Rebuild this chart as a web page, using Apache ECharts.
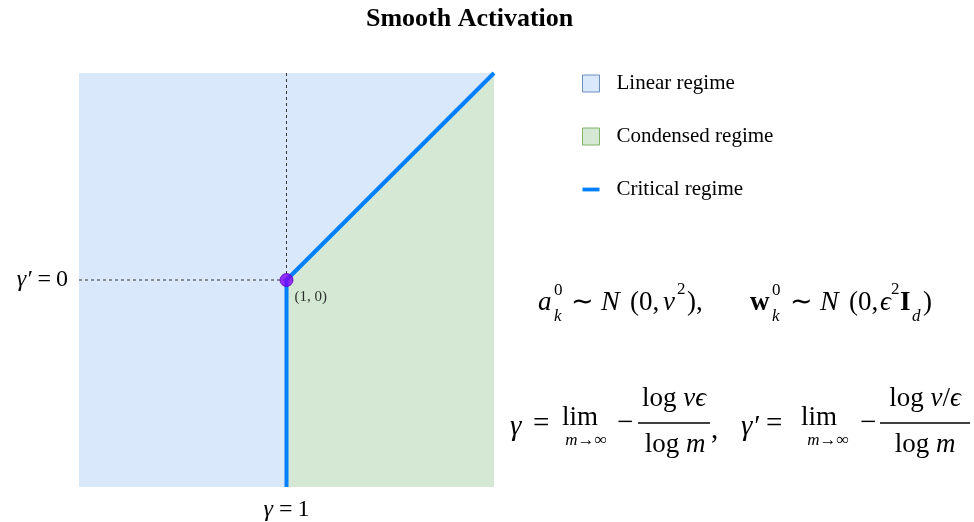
<!DOCTYPE html>
<html lang="en">
<head>
  <meta charset="UTF-8">
  <title>smooth-activation</title>
  <style>
    html, body { margin:0; padding:0; background:#fff; }
    #chart { width:974px; height:522px; }
  </style>
</head>
<body>
  <div id="chart"></div>
  <script src="https://cdn.jsdelivr.net/npm/echarts@6/dist/echarts.min.js"></script>
  <script>
    // phase diagram data (gamma on x, gamma' on y)
    var xRange = [0, 2]
    var yRange = [-1, 1]
    var linearX = [0, 2]
    var linearY = [1, 1]
    var condensedX = [1, 2]
    var condensedY = [0, 1]
    var criticalX = [1, 1, 2]
    var criticalY = [-1, 0, 1]
    var pointX = [1]
    var pointY = [0]
    var legendNames = ['Linear regime', 'Condensed regime', 'Critical regime']

    var zip = (xs, ys) => xs.map((x, i) => [x, ys[i]])
    var serif = 'Liberation Serif'

    // little helper for the formula pieces
    var richMath = {
      i: { fontStyle: 'italic', fontFamily: serif, fontSize: 27 },
      n: { fontFamily: serif, fontSize: 27 }
    }
    function tx(x, y, s, size, extra) {
      var style = {
        text: s, fontSize: size, fontFamily: serif, fill: '#000',
        align: 'left', verticalAlign: 'middle', rich: richMath
      }
      Object.assign(style, extra || {})
      return { type: 'text', x: x, y: y, silent: true, style: style }
    }
    var it = { fontStyle: 'italic' }
    var bd = { fontWeight: 'bold' }
    var ctr = { align: 'center' }
    function bar(x1, x2, y) {
      return { type: 'line', silent: true, shape: { x1: x1, y1: y, x2: x2, y2: y }, style: { stroke: '#000', lineWidth: 1.6 } }
    }

    var formulas = [
      // a_k^0 ~ N(0, nu^2)
      tx(538, 303, 'a', 27, it),
      tx(554, 291, '0', 17),
      tx(554, 317, 'k', 17, it),
      tx(571, 303, '∼', 27),
      tx(601, 303, 'N', 28, it),
      tx(630, 303, '(0,', 27),
      tx(663, 303, 'ν', 27, it),
      tx(677, 290, '2', 17),
      tx(687, 303, '),', 27),
      // w_k^0 ~ N(0, eps^2 I_d)
      tx(750, 303, 'w', 27, bd),
      tx(772, 291, '0', 17),
      tx(772, 317, 'k', 17, it),
      tx(790, 303, '∼', 27),
      tx(820, 303, 'N', 28, it),
      tx(849, 303, '(0,', 27),
      tx(880, 303, 'ϵ', 27, it),
      tx(891, 290, '2', 17),
      tx(900, 303, 'I', 27, bd),
      tx(912, 317, 'd', 17, it),
      tx(923, 303, ')', 27),
      // gamma = lim - log(nu eps)/log m
      tx(510, 427, 'γ', 29, it),
      tx(533, 424, '=', 29),
      tx(580, 418, 'lim', 27, ctr),
      tx(586, 441, 'm→∞', 17, { align: 'center', fontStyle: 'italic' }),
      tx(617, 423, '−', 29),
      tx(674, 399, '{n|log }{i|νϵ}', 27, ctr),
      bar(638, 710, 423),
      tx(675, 445, '{n|log }{i|m}', 27, ctr),
      tx(711, 430, ',', 29),
      // gamma' = lim - log(nu/eps)/log m
      tx(741, 427, 'γ′', 29, it),
      tx(766, 424, '=', 29),
      tx(819, 418, 'lim', 27, ctr),
      tx(828, 441, 'm→∞', 17, { align: 'center', fontStyle: 'italic' }),
      tx(860, 423, '−', 29),
      tx(925, 399, '{n|log }{i|ν}{n|/}{i|ϵ}', 27, ctr),
      bar(880, 970, 423),
      tx(925, 445, '{n|log }{i|m}', 27, ctr)
    ]

    var labelRich = {
      i: { fontStyle: 'italic', fontFamily: serif, fontSize: 24, color: '#000' },
      e: { fontFamily: serif, fontSize: 24, color: '#000', padding: [0, 5, 0, 6] }
    }

    var myChart = echarts.init(document.getElementById('chart'))
    var option = {
      animation: false,
      title: {
        text: 'Smooth Activation',
        left: 361,
        top: 1,
        textStyle: { fontFamily: serif, fontWeight: 'bold', fontSize: 26, color: '#000' }
      },
      legend: {
        orient: 'vertical',
        left: 577,
        top: 68,
        itemWidth: 17,
        itemHeight: 17,
        itemGap: 32,
        textStyle: { fontFamily: serif, fontSize: 21, color: '#000', padding: [0, 0, 0, 12] },
        data: [
          { name: legendNames[0], icon: 'rect', itemStyle: { color: '#dae8fc', borderColor: '#6c8ebf', borderWidth: 1 } },
          { name: legendNames[1], icon: 'rect', itemStyle: { color: '#d5e8d4', borderColor: '#82b366', borderWidth: 1 } },
          { name: legendNames[2], icon: 'path://M0,0H18V4H0Z', itemStyle: { color: '#007fff' } }
        ]
      },
      grid: { left: 79, right: 480, top: 73, bottom: 34 },
      xAxis: {
        type: 'value',
        min: xRange[0],
        max: xRange[1],
        interval: 1,
        axisLine: { show: false },
        axisTick: { show: false },
        splitLine: { show: false },
        axisLabel: {
          margin: 11,
          fontFamily: serif,
          fontSize: 24,
          color: '#000',
          formatter: v => v === 1 ? '{i|γ}{e|=}1' : '',
          rich: labelRich
        }
      },
      yAxis: {
        type: 'value',
        min: yRange[0],
        max: yRange[1],
        interval: 1,
        axisLine: { show: false },
        axisTick: { show: false },
        splitLine: { show: false },
        axisLabel: {
          margin: 11,
          fontFamily: serif,
          fontSize: 24,
          color: '#000',
          formatter: v => v === 0 ? '{i|γ′}{e|=}0' : '',
          rich: labelRich
        }
      },
      graphic: formulas,
      series: [
        {
          name: legendNames[0],
          type: 'line',
          data: zip(linearX, linearY),
          symbol: 'none',
          lineStyle: { width: 0 },
          itemStyle: { color: '#dae8fc' },
          areaStyle: { color: '#dae8fc', opacity: 1, origin: 'start' },
          z: 1
        },
        {
          name: legendNames[1],
          type: 'line',
          data: zip(condensedX, condensedY),
          symbol: 'none',
          lineStyle: { width: 0 },
          itemStyle: { color: '#d5e8d4' },
          areaStyle: { color: '#d5e8d4', opacity: 1, origin: 'start' },
          z: 2
        },
        {
          name: 'guideH',
          type: 'line',
          data: [[xRange[0], pointY[0]], [pointX[0], pointY[0]]],
          symbol: 'none',
          lineStyle: { color: '#333', width: 1, type: [3, 3] },
          z: 3
        },
        {
          name: 'guideV',
          type: 'line',
          data: [[pointX[0], pointY[0]], [pointX[0], yRange[1]]],
          symbol: 'none',
          lineStyle: { color: '#333', width: 1, type: [3, 3] },
          z: 3
        },
        {
          name: legendNames[2],
          type: 'line',
          data: zip(criticalX, criticalY),
          symbol: 'none',
          itemStyle: { color: '#007fff' },
          lineStyle: { color: '#007fff', width: 4 },
          z: 4
        },
        {
          name: 'origin',
          type: 'scatter',
          data: zip(pointX, pointY),
          symbolSize: 13,
          itemStyle: { color: '#7f00ff', borderColor: '#5a00b5', borderWidth: 1 },
          label: {
            show: true,
            formatter: '(1, 0)',
            position: [15, 17],
            fontFamily: serif,
            fontSize: 15,
            color: '#000'
          },
          z: 5
        }
      ]
    }
    myChart.setOption(option)
  </script>
</body>
</html>
